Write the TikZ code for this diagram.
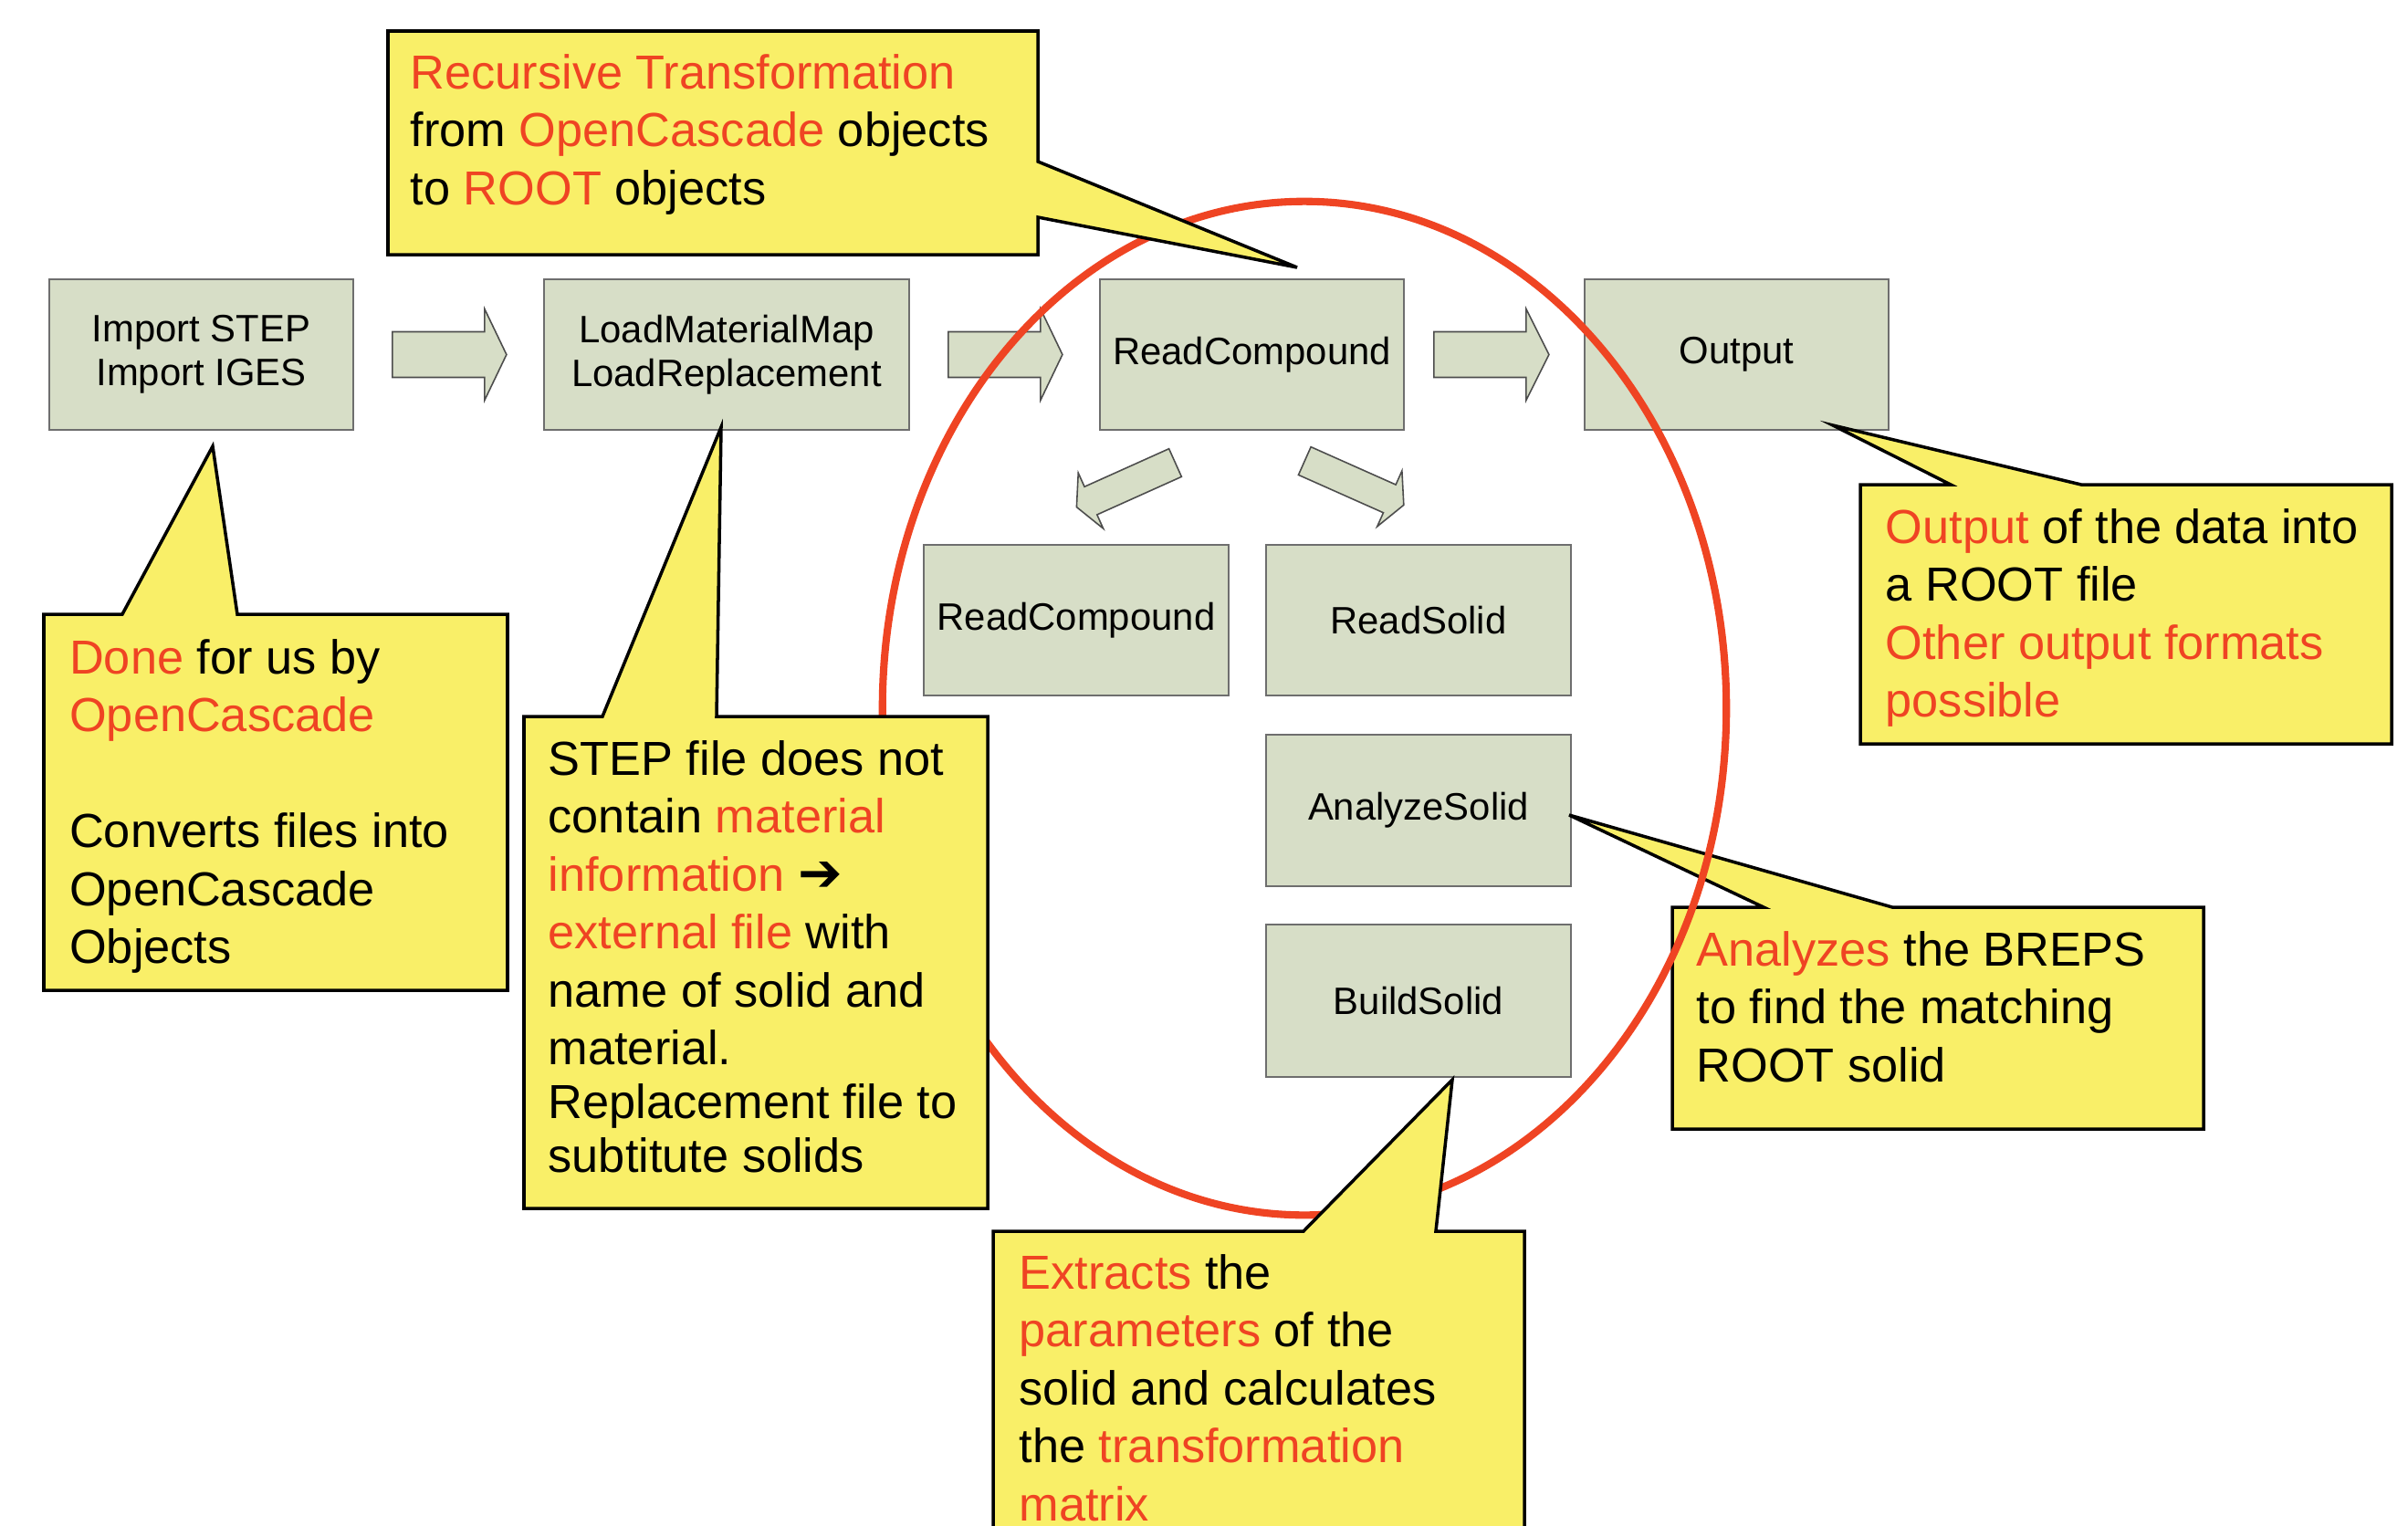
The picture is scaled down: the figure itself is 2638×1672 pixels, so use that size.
\documentclass[tikz,border=0pt]{standalone}
\usepackage{fontspec}
\setmainfont{Liberation Sans}
\newfontfamily\dejavu{DejaVu Sans}[BoldFont=DejaVu Sans Bold]
\usetikzlibrary{calc}
\definecolor{ored}{RGB}{239,68,35}
\definecolor{cyel}{RGB}{249,239,104}
\definecolor{gfill}{RGB}{215,222,199}
\definecolor{gline}{RGB}{110,110,110}
\newcommand\hl[1]{\textcolor{ored}{#1}}
\newcommand\ctxt[1]{\begin{tabular}[t]{@{}l@{}}#1\end{tabular}}
% block arrow: shift, angle, length, head length, shaft half width, head half width
\newcommand\barrow[6]{\draw[barrowstyle, shift={#1}, rotate=#2] (0,-#5) -- (#3-#4,-#5) -- (#3-#4,-#6) -- (#3,0) -- (#3-#4,#6) -- (#3-#4,#5) -- (0,#5) -- cycle;}
\begin{document}
\begin{tikzpicture}[x=0.01cm,y=-0.01cm,
  gbox/.style={draw=gline, line width=0.45pt, fill=gfill, inner sep=0pt, align=center,
    font=\fontsize{11.9}{13.6}\selectfont},
  barrowstyle/.style={draw=gline!70!black, line width=0.45pt, fill=gfill, line join=miter},
  callout/.style={draw=black, line width=1pt, fill=cyel, line join=miter},
  ctext/.style={anchor=base west, inner sep=0pt, font=\fontsize{14.88}{18.07}\selectfont},
  ring/.style={draw=ored, line width=2.3pt}
]
\clip (0,0) rectangle (2638,1672);
\fill[white] (0,0) rectangle (2638,1672);

% process boxes
\node[gbox, minimum width=3.33cm, minimum height=1.65cm] (imp) at (220.5,388.5) {Import STEP\\Import IGES};
\node[gbox, minimum width=4.00cm, minimum height=1.65cm] (load) at (796,388.5) {LoadMaterialMap\\LoadReplacement};
\node[gbox, minimum width=3.33cm, minimum height=1.65cm] (rc) at (1371.5,388.5) {ReadCompound};
\node[gbox, minimum width=3.33cm, minimum height=1.65cm] (out) at (1902.5,388.5) {Output};
\node[gbox, minimum width=3.34cm, minimum height=1.65cm] (rc2) at (1179,679.5) {ReadCompound};
\node[gbox, minimum width=3.34cm, minimum height=1.65cm] (rs) at (1554,679.5) {ReadSolid};
\node[gbox, minimum width=3.34cm, minimum height=1.66cm] (as) at (1554,888) {AnalyzeSolid};
\node[gbox, minimum width=3.34cm, minimum height=1.67cm] (bs) at (1554,1096.5) {BuildSolid};

% block arrows
\barrow{($(imp.east)+(42,0)$)}{0}{125}{24}{25}{50}
\barrow{($(load.east)+(42,0)$)}{0}{125}{24}{25}{50}
\barrow{($(rc.east)+(32,0)$)}{0}{126}{25}{25}{50}
\barrow{(1287.5,507)}{204.2}{118.5}{17}{16.8}{33.4}
\barrow{(1429.3,505)}{-24}{118.8}{17}{16.8}{33.4}

% callout under the ring
\draw[callout] (1832,994) -- (1932,994) -- (1719,893) -- (2073,994) -- (2414,994) -- (2414,1237) -- (1832,1237) -- cycle;
\node[ctext] (tana) at (1858,1058) {\ctxt{\hl{Analyzes} the BREPS\\ to find the matching\\ ROOT solid}};

% red ring
\draw[ring] (1429,776) ellipse [x radius=4.62cm, y radius=5.55cm];

% callouts over the ring
\draw[callout] (425,34) -- (1137,34) -- (1137,177) -- (1421,293) -- (1137,238) -- (1137,279) -- (425,279) -- cycle;
\node[ctext] (ttop) at (449,97) {\ctxt{\hl{Recursive Transformation}\\ from \hl{OpenCascade} objects\\ to \hl{ROOT} objects}};

\draw[callout] (48,673) -- (134,673) -- (233,489) -- (260,673) -- (556,673) -- (556,1085) -- (48,1085) -- cycle;
\node[ctext] (tdone) at (75.5,738) {\ctxt{\hl{Done} for us by\\ \hl{OpenCascade}\\ \\ Converts files into\\ OpenCascade\\ Objects}};

\draw[callout] (574,785) -- (660,785) -- (790,468) -- (785,785) -- (1082,785) -- (1082,1324) -- (574,1324) -- cycle;
\node[ctext] (tstep) at (600,849) {\ctxt{STEP file does not\\ contain \hl{material}\\ \hl{information} {\dejavu\bfseries\fontsize{16.5}{18}\selectfont ➔}\\ \hl{external file} with\\ name of solid and\\ material.\\[-1.35pt] Replacement file to\\[-1.35pt] subtitute solids}};

\draw[callout] (1088,1349) -- (1428,1349) -- (1591,1183) -- (1573,1349) -- (1670,1349) -- (1670,1720) -- (1088,1720) -- cycle;
\node[ctext] (text) at (1116,1412) {\ctxt{\hl{Extracts} the\\ \hl{parameters} of the\\ solid and calculates\\ the \hl{transformation}\\ \hl{matrix}}};

\draw[callout] (2038,531) -- (2137,531) -- (2008,466) -- (2280,531) -- (2620,531) -- (2620,815) -- (2038,815) -- cycle;
\node[ctext] (tout) at (2065,595) {\ctxt{\hl{Output} of the data into\\ a ROOT file\\ \hl{Other output formats}\\ \hl{possible}}};
\end{tikzpicture}
\end{document}
